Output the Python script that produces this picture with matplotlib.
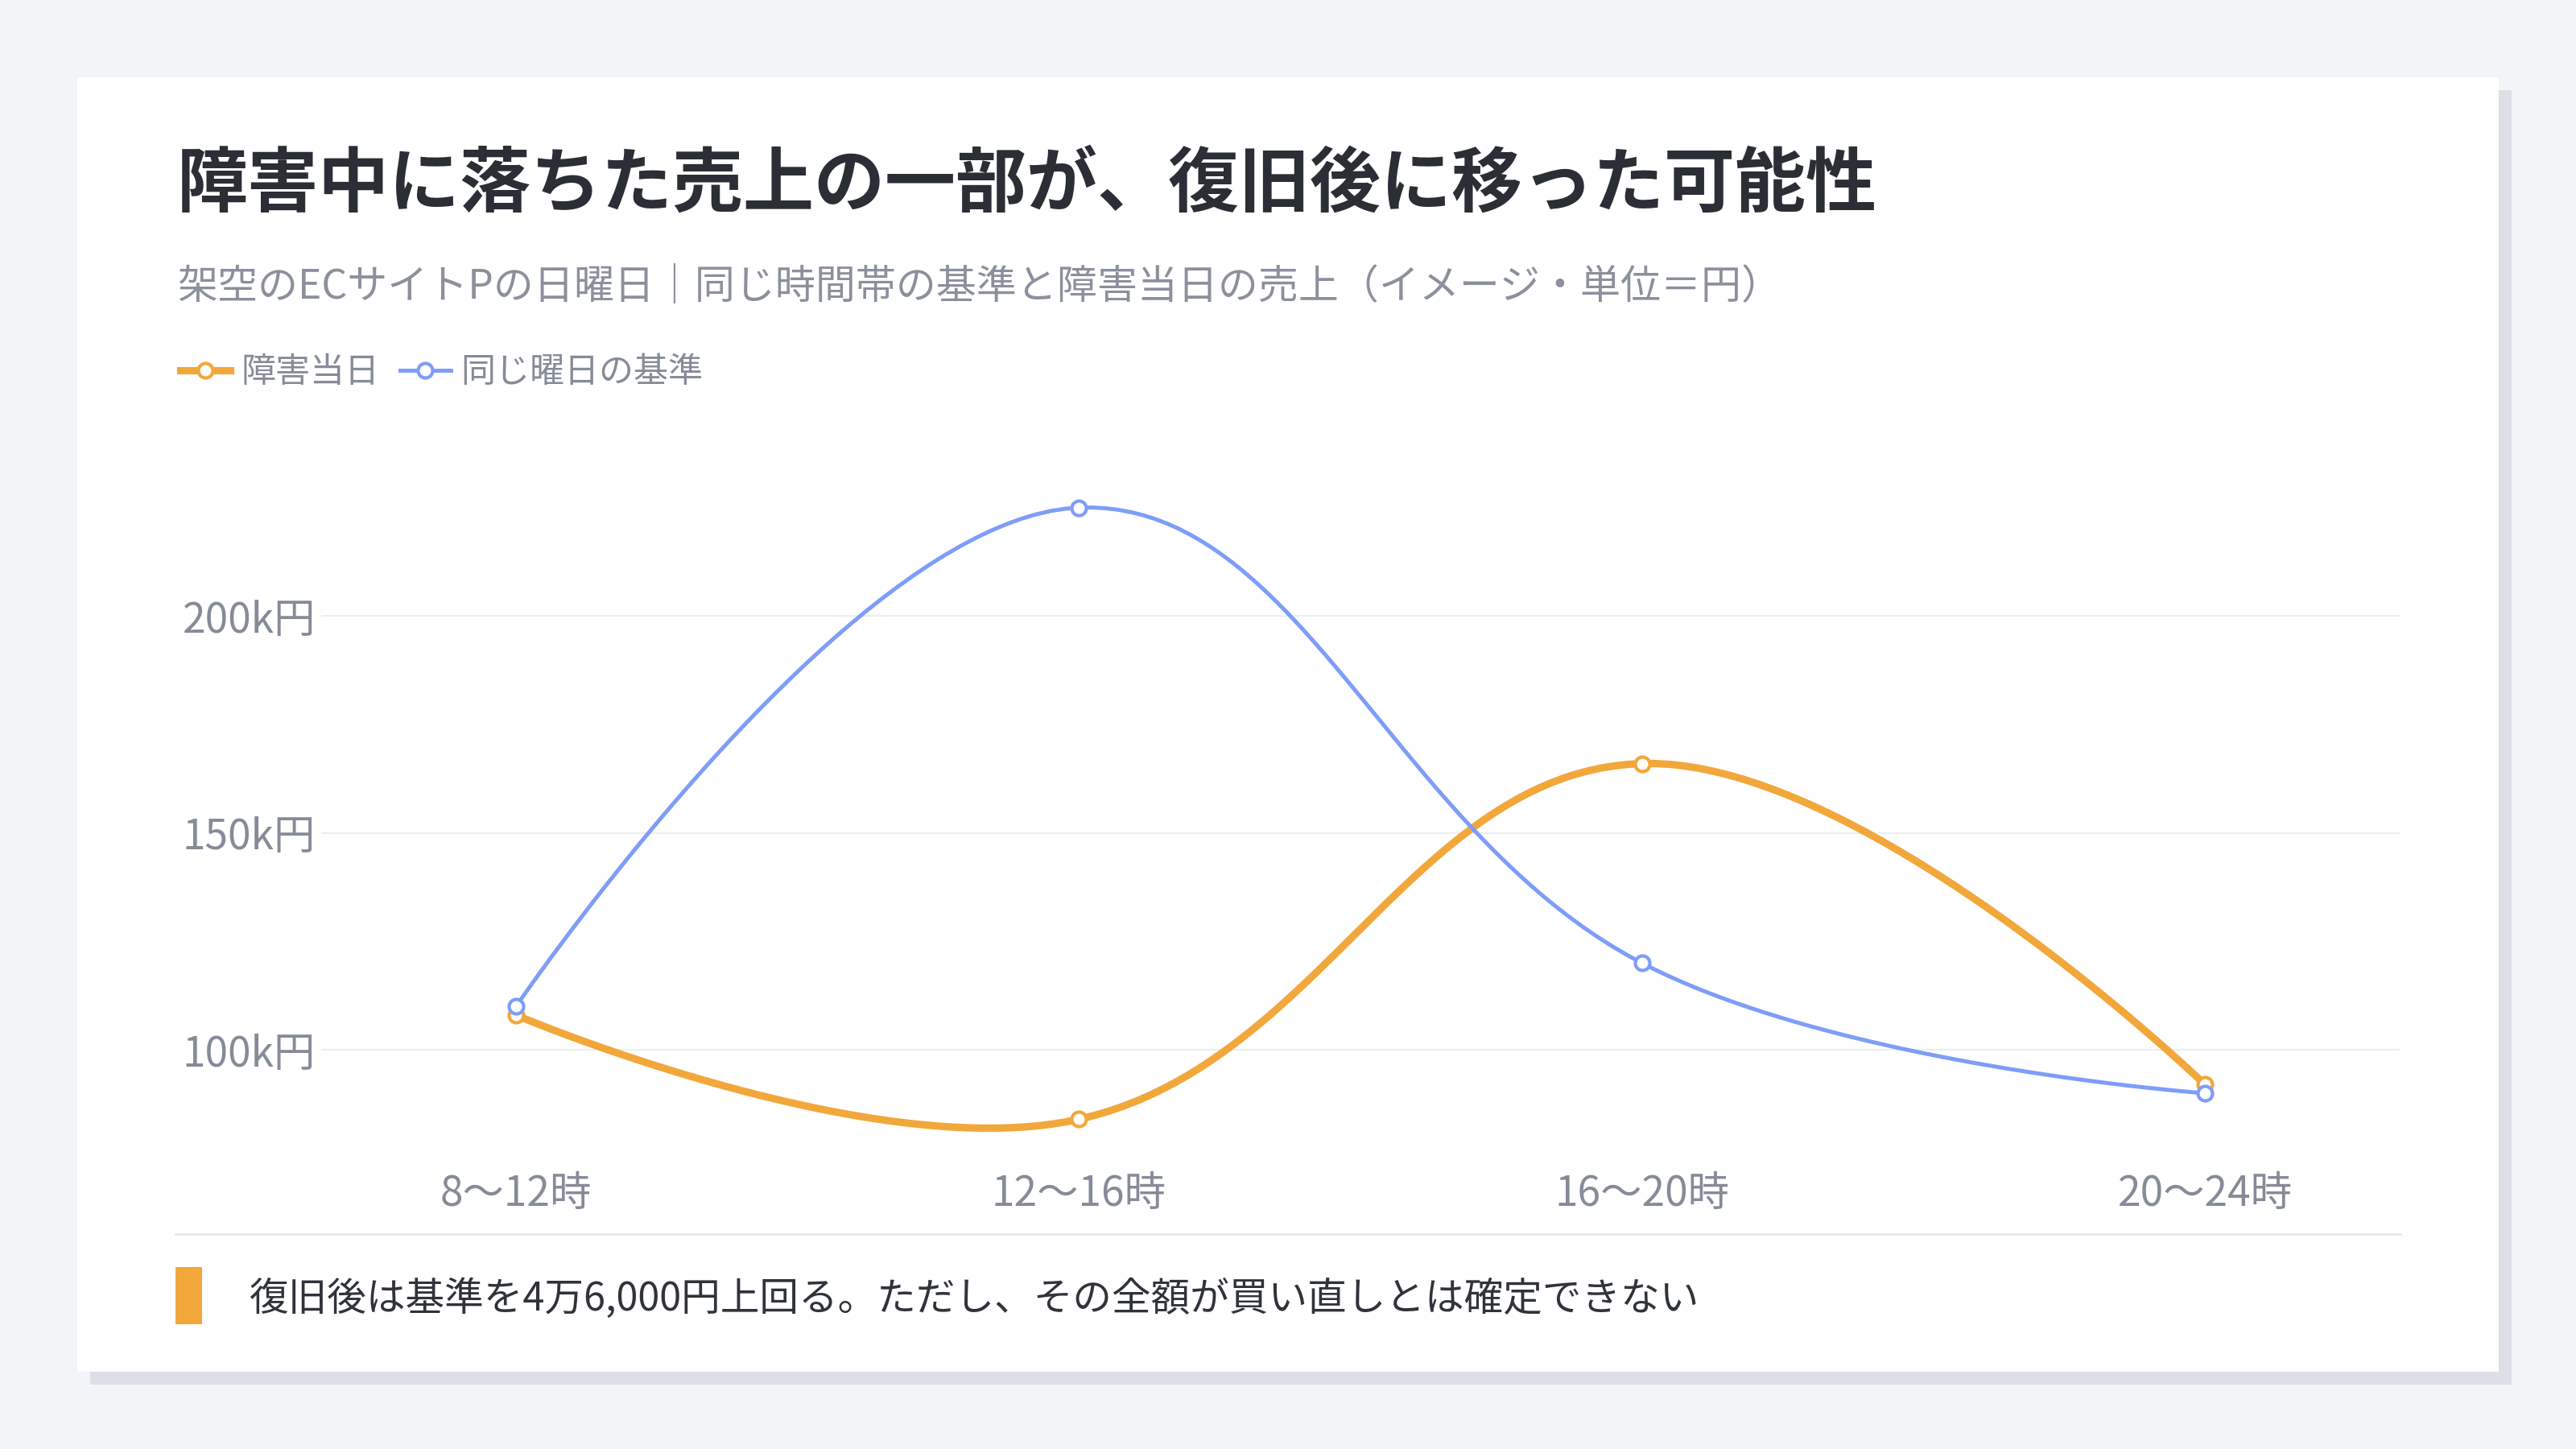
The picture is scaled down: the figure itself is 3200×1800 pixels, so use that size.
import numpy as np
import matplotlib.pyplot as plt
from matplotlib.patches import Rectangle
from matplotlib.lines import Line2D

plt.rcParams['font.family'] = ['Noto Sans CJK JP', 'DejaVu Sans']

categories = ['8〜12時', '12〜16時', '16〜20時', '20〜24時']
outage_day = [108, 84, 166, 92]   # k円
baseline = [110, 225, 120, 90]    # k円
y_ticks = [100, 150, 200]
y_tick_labels = ['100k円', '150k円', '200k円']
series_names = ['障害当日', '同じ曜日の基準']

title = '障害中に落ちた売上の一部が、復旧後に移った可能性'
subtitle = '架空のECサイトPの日曜日｜同じ時間帯の基準と障害当日の売上（イメージ・単位＝円）'
note = '復旧後は基準を4万6,000円上回る。ただし、その全額が買い直しとは確定できない'

ORANGE = '#f2a73b'
BLUE = '#7e9df7'
GRAY = '#868b98'
W, H = 3200, 1800


def fx(px):
    return px / W


def fy(py):
    return 1 - py / H


def smooth_curve(pts, smooth=0.4, n=50):
    # echarts style bezier smoothing, done in pixel space
    out = [pts[0]]
    cp0 = pts[0]
    t = np.linspace(0, 1, n)[1:, None]
    for i in range(1, len(pts)):
        p = pts[i]
        if i == len(pts) - 1:
            cp1 = p
            nxt_cp0 = p
        else:
            prev, nxt = pts[i - 1], pts[i + 1]
            v = nxt - prev
            l0 = np.hypot(*(p - prev))
            l1 = np.hypot(*(nxt - p))
            r = l1 / (l0 + l1)
            cp1 = p - v * smooth * (1 - r)
            nxt_cp0 = p + v * smooth * r
        a = pts[i - 1]
        seg = (1 - t) ** 3 * a + 3 * (1 - t) ** 2 * t * cp0 + 3 * (1 - t) * t ** 2 * cp1 + t ** 3 * p
        out.extend(seg)
        cp0 = nxt_cp0
    return np.array(out)


fig = plt.figure(figsize=(16, 9), dpi=200)
fig.patch.set_facecolor('#f3f4f8')

# card with offset shadow
fig.patches.append(Rectangle((fx(112), fy(1720)), 3008 / W, 1608 / H, transform=fig.transFigure,
                             facecolor='#dcdfe6', edgecolor='none', zorder=-2))
fig.patches.append(Rectangle((fx(96), fy(1704)), 3008 / W, 1608 / H, transform=fig.transFigure,
                             facecolor='white', edgecolor='none', zorder=-1))

fig.text(fx(220), fy(230), title, fontsize=31.7, fontweight='bold', color='#2b2e35', va='center')
fig.text(fx(220), fy(357), subtitle, fontsize=18, color='#8b909c', va='center')

ax = fig.add_axes([fx(398.7), fy(1420), (2981 - 398.7) / W, 860 / H])
ax.set_zorder(2)
ax.set_facecolor('none')
ax.set_xlim(-0.3465, 3.346)
ax.set_ylim(78.5, 238.1)
for s in ax.spines.values():
    s.set_visible(False)

for v in y_ticks:
    ax.axhline(v, color='#eceef2', lw=0.8, zorder=1)

x = np.arange(len(categories))
series = [(outage_day, ORANGE, 3.3, 3), (baseline, BLUE, 1.8, 4)]
handles = []
for (vals, col, lw, z), name in zip(series, series_names):
    disp = ax.transData.transform(np.column_stack([x, vals]))
    curve = ax.transData.inverted().transform(smooth_curve(disp))
    ax.plot(curve[:, 0], curve[:, 1], color=col, lw=lw, zorder=z, clip_on=False,
            solid_capstyle='round')
    ax.plot(x, vals, 'o', ms=6.5, mfc='white', mec=col, mew=1.5, zorder=z + 2, clip_on=False)
    handles.append(Line2D([], [], color=col, lw=lw, marker='o', ms=6.5, mfc='white', mec=col,
                          mew=1.5, label=name))

ax.set_xticks(x, categories)
ax.set_yticks(y_ticks, y_tick_labels)
ax.tick_params(axis='both', length=0, labelsize=18.5, labelcolor=GRAY)
ax.tick_params(axis='x', pad=13)
ax.tick_params(axis='y', pad=2.4)

fig.legend(handles=handles, loc='center left', bbox_to_anchor=(fx(224), fy(463)), ncol=2,
           frameon=False, fontsize=15.5, labelcolor=GRAY, handlelength=1.45, handletextpad=0.3,
           columnspacing=0.6, borderpad=0, borderaxespad=0, numpoints=1)

fig.add_artist(Line2D([fx(218), fx(2982)], [fy(1533), fy(1533)], color='#e6e8ec', lw=1.0))
fig.patches.append(Rectangle((fx(218), fy(1645)), 33 / W, 71 / H, transform=fig.transFigure,
                             facecolor=ORANGE, edgecolor='none'))
fig.text(fx(310), fy(1614), note, fontsize=17.5, color='#30333a', va='center')

fig.savefig('out.png', dpi=200, facecolor=fig.get_facecolor())
